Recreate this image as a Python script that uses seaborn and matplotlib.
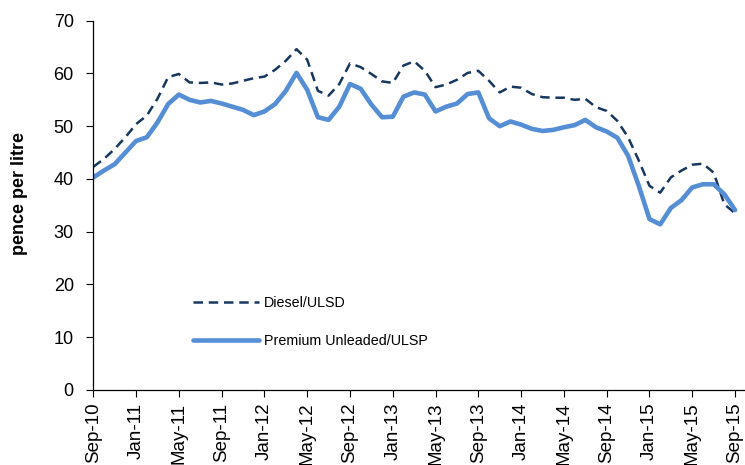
import matplotlib
matplotlib.use("Agg")
import matplotlib.pyplot as plt
import seaborn as sns
import pandas as pd
import numpy as np

# Monthly series Sep-10 .. Sep-15 (pence per litre)
diesel = [42.3, 43.8, 45.7, 47.9, 50.4, 52.0, 55.2, 59.3, 59.9, 58.3,
          58.2, 58.3, 57.9, 58.1, 58.6, 59.1, 59.4, 60.7, 62.4, 64.6,
          62.6, 56.7, 55.8, 58.0, 61.9, 61.2, 59.9, 58.5, 58.2, 61.5,
          62.3, 60.5, 57.4, 57.9, 58.8, 60.1, 60.5, 58.6, 56.4, 57.5,
          57.3, 56.1, 55.5, 55.4, 55.4, 55.0, 55.2, 53.6, 52.9, 51.0,
          47.9, 43.5, 38.7, 37.4, 40.3, 41.6, 42.7, 42.9, 41.2, 35.2,
          33.5]
premium = [40.3, 41.6, 42.8, 45.0, 47.2, 47.9, 50.7, 54.2, 56.0, 55.0,
           54.5, 54.8, 54.3, 53.7, 53.1, 52.1, 52.8, 54.2, 56.7, 60.1,
           56.9, 51.7, 51.2, 53.7, 58.0, 57.1, 54.1, 51.7, 51.8, 55.6,
           56.4, 56.0, 52.8, 53.7, 54.3, 56.1, 56.4, 51.5, 50.0, 50.9,
           50.3, 49.5, 49.1, 49.3, 49.8, 50.2, 51.2, 49.8, 49.0, 47.8,
           44.4, 38.7, 32.4, 31.4, 34.5, 36.0, 38.4, 39.0, 39.0, 37.1,
           34.1]
tick_labels = ["Sep-10", "Jan-11", "May-11", "Sep-11", "Jan-12", "May-12",
               "Sep-12", "Jan-13", "May-13", "Sep-13", "Jan-14", "May-14",
               "Sep-14", "Jan-15", "May-15", "Sep-15"]
series_names = ["Diesel/ULSD", "Premium Unleaded/ULSP"]

month_idx = list(range(len(diesel)))
df = pd.DataFrame({"month": month_idx, "Diesel/ULSD": diesel,
                   "Premium Unleaded/ULSP": premium})

sns.set_theme(style="ticks")
plt.rcParams["font.family"] = ["Liberation Sans", "DejaVu Sans"]
plt.rcParams["text.color"] = "black"
plt.rcParams["axes.labelcolor"] = "black"

fig = plt.figure(figsize=(7.45, 4.65), dpi=100)
ax = fig.add_axes([0.1252, 0.1613, 0.8748, 0.7942])

sns.lineplot(data=df, x="month", y="Diesel/ULSD", ax=ax, color="#17375E",
             linewidth=1.8, linestyle=(0, (3.8, 2.3)), label=series_names[0])
sns.lineplot(data=df, x="month", y="Premium Unleaded/ULSP", ax=ax,
             color="#558ED5", linewidth=3.3, label=series_names[1],
             solid_capstyle="round")

ax.set_xlim(0, 60.93)
ax.set_ylim(0, 70)
ax.set_yticks(np.arange(0, 71, 10))
ax.set_xticks(np.arange(0, 61, 4))
ax.set_xticklabels(tick_labels, rotation=90)
ax.tick_params(axis="both", colors="black", length=5, width=0.8,
               direction="out")
ax.tick_params(axis="y", labelsize=13, pad=9)
ax.tick_params(axis="x", labelsize=13.5, pad=4)
sns.despine(ax=ax)
for s in ("left", "bottom"):
    ax.spines[s].set_color("black")
    ax.spines[s].set_linewidth(0.9)

ax.set_xlabel("")
ax.set_ylabel("pence per litre", fontsize=13, fontweight="bold", color="black")
ax.yaxis.set_label_coords(-0.1, 0.533)

leg = ax.legend(loc="upper left", bbox_to_anchor=(0.144, 0.271), frameon=False,
                fontsize=10.3, handlelength=4.6, handletextpad=0.35,
                labelspacing=1.7, borderaxespad=0, labelcolor="black")

fig.savefig("out.png", dpi=100)
